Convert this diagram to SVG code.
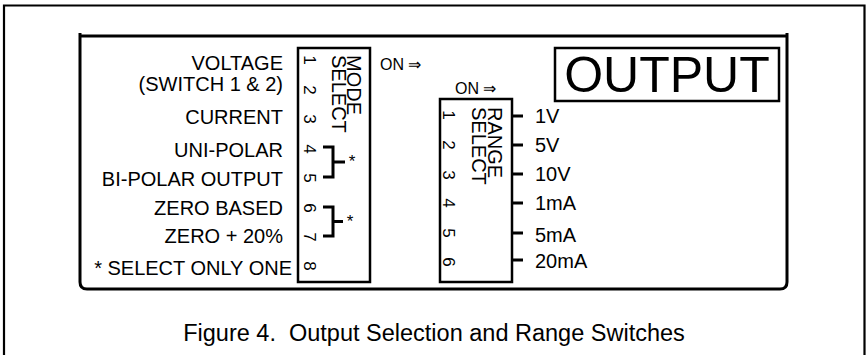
<svg xmlns="http://www.w3.org/2000/svg" width="866" height="355" viewBox="0 0 866 355">
<style>
text{font-family:"Liberation Sans",Arial,sans-serif;fill:#000}
.lbl{font-size:20px;text-anchor:end}
.rl{font-size:20px}
.num{font-size:17px;text-anchor:middle}
.ttl{font-size:20px}
.on{font-size:16px}
.ast{font-size:17px;text-anchor:middle}
.box{fill:none;stroke:#000;stroke-width:2.5}
.ln{fill:none;stroke:#000;stroke-width:3}
</style>
<rect width="866" height="355" fill="#fff"/>
<path d="M4,360 V5.5 H864.5 V360" fill="none" stroke="#000" stroke-width="2.2"/>
<path d="M80,33 V282 Q80,289 87,289 H780 Q787,289 787,282 V33 M80,36 H787" class="ln"/>
<g id="mode-labels">
<text class="lbl" x="283" y="70">VOLTAGE</text>
<text class="lbl" x="283" y="91">(SWITCH 1 &amp; 2)</text>
<text class="lbl" x="283" y="124">CURRENT</text>
<text class="lbl" x="283" y="157">UNI-POLAR</text>
<text class="lbl" x="283" y="186">BI-POLAR OUTPUT</text>
<text class="lbl" x="283" y="215">ZERO BASED</text>
<text class="lbl" x="283" y="243">ZERO + 20%</text>
<text class="lbl" x="292" y="275">* SELECT ONLY ONE</text>
</g>
<g id="mode-select">
<rect class="box" x="298" y="48" width="72" height="234"/>
<text class="ttl" transform="translate(347,55) rotate(90)">MODE</text>
<text class="ttl" transform="translate(332,55) rotate(90)">SELECT</text>
<text class="num" transform="translate(304,60) rotate(90)">1</text>
<text class="num" transform="translate(304,90) rotate(90)">2</text>
<text class="num" transform="translate(304,119) rotate(90)">3</text>
<text class="num" transform="translate(304,149) rotate(90)">4</text>
<text class="num" transform="translate(304,178) rotate(90)">5</text>
<text class="num" transform="translate(304,208) rotate(90)">6</text>
<text class="num" transform="translate(304,237) rotate(90)">7</text>
<text class="num" transform="translate(304,266) rotate(90)">8</text>
</g>
<g id="mode-on"><text class="on" x="380" y="70">ON ⇒</text></g>
<g id="range-on"><text class="on" x="455" y="94">ON ⇒</text></g>
<g id="range-select">
<rect class="box" x="440" y="99" width="72" height="183"/>
<text class="ttl" transform="translate(488,107) rotate(90)">RANGE</text>
<text class="ttl" transform="translate(472,107) rotate(90)">SELECT</text>
<text class="num" transform="translate(443,115) rotate(90)">1</text>
<text class="num" transform="translate(443,145) rotate(90)">2</text>
<text class="num" transform="translate(443,175) rotate(90)">3</text>
<text class="num" transform="translate(443,203) rotate(90)">4</text>
<text class="num" transform="translate(443,233) rotate(90)">5</text>
<text class="num" transform="translate(443,262) rotate(90)">6</text>
</g>
<g id="range-labels">
<text class="rl" x="535" y="123">1V</text>
<text class="rl" x="535" y="152">5V</text>
<text class="rl" x="535" y="181">10V</text>
<text class="rl" x="535" y="210">1mA</text>
<text class="rl" x="535" y="242">5mA</text>
<text class="rl" x="535" y="268">20mA</text>
</g>
<g id="output">
<rect x="555" y="48" width="224" height="53" class="box"/>
<text x="667" y="92" font-size="50" text-anchor="middle">OUTPUT</text>
</g>
<g id="connectors">
<path class="ln" d="M323,147 H333 V177 H323 M333,162 H345"/>
<path class="ln" d="M323,207 H333 V236 H323 M333,221.5 H343"/>
<text class="ast" x="352" y="167">*</text>
<text class="ast" x="350" y="227">*</text>
<path class="ln" d="M512,116 H523 M512,145 H523 M512,174 H523 M512,203 H523 M512,233 H523 M512,260 H523"/>
</g>
<text x="434" y="341" font-size="23.5" text-anchor="middle" xml:space="preserve">Figure 4.  Output Selection and Range Switches</text>
</svg>
